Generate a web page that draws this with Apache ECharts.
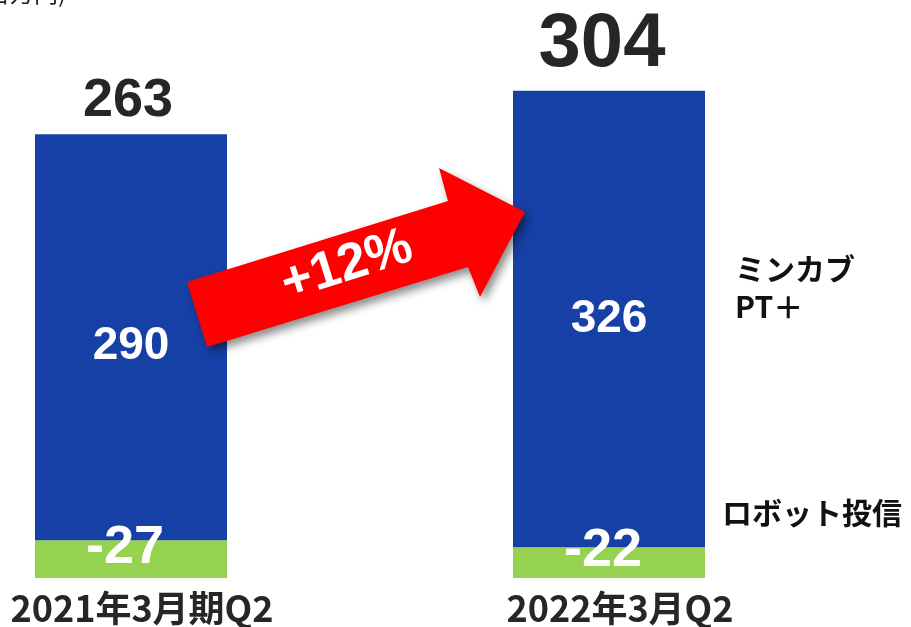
<!DOCTYPE html>
<html><head><meta charset="utf-8">
<script src="https://cdn.jsdelivr.net/npm/echarts@6/dist/echarts.min.js"></script>
<style>html,body{margin:0;padding:0;background:#fff}#c{width:911px;height:627px}</style>
</head><body><div id="c"></div>
<script>
const categories = ['2021年3月期Q2', '2022年3月Q2'];
const minkabuValues = [290, 326];
const robotValues = [-27, -22];
const totals = [263, 304];
const growthLabel = '+12%';
const unitLabel = '(百万円)';
const seriesNames = ['ロボット投信', 'ミンカブ\nPT＋'];

const BLUE = '#1740A6', GREEN = '#94D24F', DARK = '#262626';
const chart = echarts.init(document.getElementById('c'));
const numFont = '"Liberation Sans", Arial, sans-serif';
const jpFont = '"Noto Sans CJK JP", sans-serif';

chart.setOption({
  animation: false,
  grid: { left: 131, right: 302, top: 18, bottom: 49 },
  xAxis: {
    type: 'category', data: categories, boundaryGap: false,
    axisLine: { show: false }, axisTick: { show: false }, splitLine: { show: false },
    axisLabel: { fontSize: 36, fontWeight: 'bold', color: DARK, fontFamily: jpFont, margin: 12,
      formatter: v => v, padding: [0, 0, 0, 22] }
  },
  yAxis: { type: 'value', min: 0, max: 400, show: false, splitLine: { show: false } },
  series: [
    {
      name: seriesNames[0], type: 'bar', stack: 's', barWidth: 192,
      data: robotValues.map(v => Math.abs(v)),
      itemStyle: { color: GREEN },
      label: { show: true, position: 'inside', offset: [-6, -11], color: '#fff',
        fontFamily: numFont, fontWeight: 'bold', fontSize: 54,
        formatter: p => String(robotValues[p.dataIndex]) }
    },
    {
      name: seriesNames[1], type: 'bar', stack: 's', barWidth: 192,
      data: minkabuValues.map((v, i) => i === 0 ? { value: v, label: { offset: [0, 9] } } : v),
      itemStyle: { color: BLUE },
      label: { show: true, position: 'inside', color: '#fff',
        fontFamily: numFont, fontWeight: 'bold', fontSize: 46,
        formatter: p => String(minkabuValues[p.dataIndex]) }
    },
    {
      name: 'total', type: 'bar', stack: 's', barWidth: 192,
      data: totals.map((t, i) => ({
        value: 0,
        label: i === 0 ? { fontSize: 54, offset: [-3, 0], distance: 6 } : { fontSize: 76, offset: [-7, 0], distance: 8 }
      })),
      itemStyle: { color: 'transparent' },
      label: { show: true, position: 'top', color: DARK, fontFamily: numFont, fontWeight: 'bold',
        formatter: p => String(totals[p.dataIndex]) }
    }
  ],
  graphic: [
    { type: 'text', left: -22, top: -19, style: { text: unitLabel, fontSize: 24, fontFamily: jpFont, fill: DARK } },
    { type: 'text', left: 735, top: 250, style: { text: seriesNames[1], fontSize: 30, lineHeight: 38, fontWeight: 'bold', fontFamily: jpFont, fill: '#111' } },
    { type: 'text', left: 722, top: 498, style: { text: seriesNames[0], fontSize: 30, fontWeight: 'bold', fontFamily: jpFont, fill: '#111' } },
    {
      type: 'polygon', z: 100,
      shape: { points: [[187, 282], [448, 201], [439, 168], [525, 212], [480, 297], [468, 267], [207, 347]] },
      style: { fill: '#FF0000', shadowBlur: 8, shadowOffsetX: 4, shadowOffsetY: 5, shadowColor: 'rgba(0,0,0,0.45)' }
    },
    {
      type: 'text', z: 101, x: 347, y: 266, rotation: 17.5 * Math.PI / 180,
      style: { text: growthLabel, fontSize: 52, fontWeight: 'bold', fontFamily: numFont, fill: '#fff',
        textAlign: 'center', textVerticalAlign: 'middle' }
    }
  ]
});
</script></body></html>
